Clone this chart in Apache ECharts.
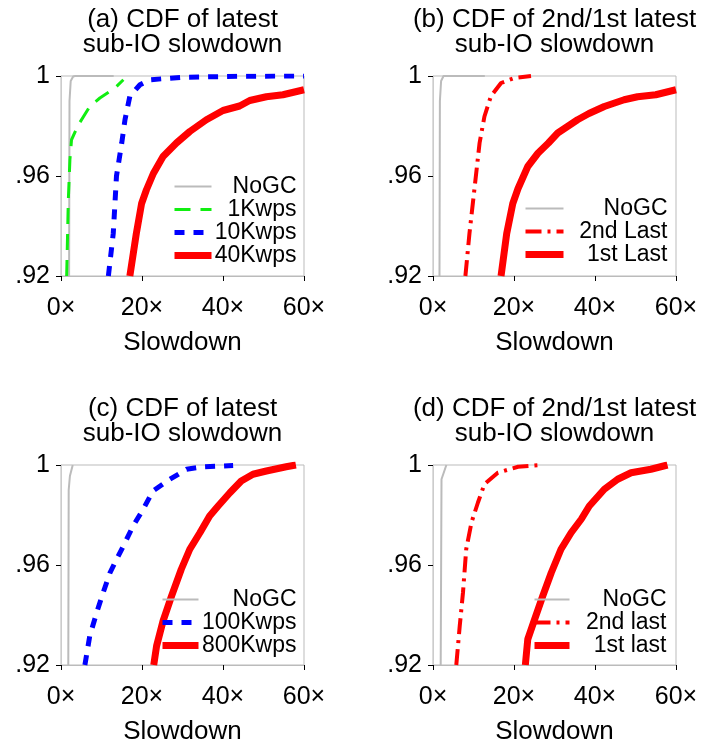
<!DOCTYPE html>
<html>
<head>
<meta charset="utf-8">
<script src="https://cdn.jsdelivr.net/npm/echarts@6/dist/echarts.min.js"></script>
<style>
  html, body { margin: 0; padding: 0; background: #fff; }
  #chart { width: 702px; height: 746px; }
</style>
</head>
<body>
<div id="chart"></div>
<script>
// values: [slowdown, cdf]
var xTicks = [0, 20, 40, 60];
var yTicks = [0.92, 0.96, 1];

var aNoGC = [[2.0, 0.92], [2.1, 0.99], [2.4, 0.998], [3.0, 0.9998], [3.5, 1], [13, 1]];
var a1K = [[1.4, 0.92], [1.8, 0.95], [2.2, 0.9665], [2.6, 0.9745], [4.3, 0.9805], [7.1, 0.9878], [9.6, 0.9912], [13.3, 0.9952], [15.4, 0.9985]];
var a10K = [[11.7, 0.92], [12.9, 0.937], [13.7, 0.96], [15.0, 0.9732], [15.8, 0.9825], [17.0, 0.9919], [19.5, 0.9965], [21.9, 0.9985], [30, 0.9995], [45, 0.9999], [60, 1]];
var a40K = [[17.0, 0.92], [18.6, 0.937], [19.9, 0.949], [21.1, 0.9545], [22.8, 0.961], [25.2, 0.9678], [28.5, 0.9732], [31.8, 0.9778], [35.9, 0.9825], [40.0, 0.9862], [44.1, 0.988], [46.6, 0.9902], [50.7, 0.9917], [54.8, 0.9925], [60, 0.9945]];

var bNoGC = [[1.6, 0.92], [1.7, 0.99], [2.0, 0.998], [2.6, 1], [12.8, 1]];
var b2nd = [[8.0, 0.92], [9.0, 0.937], [10.3, 0.9558], [11.5, 0.9732], [12.7, 0.9838], [14.3, 0.9919], [16.8, 0.9972], [20.1, 0.9992], [24.2, 1]];
var b1st = [[16.8, 0.92], [18.2, 0.937], [19.7, 0.949], [21.0, 0.955], [23.4, 0.9638], [25.9, 0.9691], [28.5, 0.9732], [30.8, 0.9772], [35.7, 0.9825], [38.5, 0.985], [42.3, 0.9878], [47.2, 0.9905], [50.5, 0.9917], [55, 0.9925], [60, 0.9945]];

var cNoGC = [[1.8, 0.92], [1.9, 0.99], [2.2, 0.9956], [2.9, 1]];
var c100K = [[5.9, 0.92], [7.1, 0.9316], [8.8, 0.9409], [10.4, 0.9489], [12.1, 0.9569], [13.3, 0.9609], [15.4, 0.9676], [17.8, 0.9756], [20.3, 0.9823], [22.7, 0.9896], [26.9, 0.9943], [31.0, 0.9983], [35.1, 0.9993], [42.5, 0.9998]];
var c800K = [[22.9, 0.92], [23.6, 0.9276], [25.2, 0.9376], [27.3, 0.9476], [29.7, 0.9583], [31.8, 0.9663], [34.3, 0.9729], [36.7, 0.9796], [38.8, 0.9836], [41.7, 0.9889], [44.5, 0.9936], [47.4, 0.9963], [50.7, 0.9976], [55.6, 0.9993], [58, 1]];

var dNoGC = [[1.9, 0.92], [2.1, 0.9943], [3.3, 1]];
var d2nd = [[5.75, 0.92], [6.6, 0.9356], [7.4, 0.9489], [8.2, 0.9663], [9.5, 0.977], [11.1, 0.985], [12.7, 0.9923], [16.0, 0.9969], [21.0, 0.9993], [26.7, 1]];
var d1st = [[22.8, 0.92], [23.4, 0.9303], [25.1, 0.9383], [27.1, 0.9476], [29.2, 0.9569], [31.6, 0.9663], [34.1, 0.9729], [36.6, 0.9783], [38.6, 0.9836], [42.3, 0.9903], [45.6, 0.9943], [48.9, 0.9969], [53.8, 0.9983], [57.9, 1]];

var titles = [
  "(a) CDF of latest\nsub-IO slowdown",
  "(b) CDF of 2nd/1st latest\nsub-IO slowdown",
  "(c) CDF of latest\nsub-IO slowdown",
  "(d) CDF of 2nd/1st latest\nsub-IO slowdown"
];

var FONT = "Liberation Sans";
var grids = [
  { left: 61, top: 76 },
  { left: 433, top: 76 },
  { left: 61, top: 465 },
  { left: 433, top: 465 }
];

// line styles per legend name
var styles = {
  "NoGC": { color: "#bbbbbb", width: 2, type: "solid" },
  "1Kwps": { color: "#11ee11", width: 3, type: [16, 10] },
  "10Kwps": { color: "#0000ff", width: 5, type: [10, 9] },
  "40Kwps": { color: "#ff0000", width: 7, type: "solid" },
  "2nd Last": { color: "#ff0000", width: 4, type: [16, 6, 3, 6] },
  "1st Last": { color: "#ff0000", width: 7, type: "solid" },
  "100Kwps": { color: "#0000ff", width: 5, type: [10, 9] },
  "800Kwps": { color: "#ff0000", width: 7, type: "solid" },
  "2nd last": { color: "#ff0000", width: 4, type: [16, 6, 3, 6] },
  "1st last": { color: "#ff0000", width: 7, type: "solid" }
};

function line(name, idx, data) {
  var s = styles[name];
  return {
    name: name,
    type: "line",
    xAxisIndex: idx,
    yAxisIndex: idx,
    symbol: "none",
    lineStyle: { color: s.color, width: s.width, type: s.type },
    itemStyle: { color: s.color },
    data: data
  };
}

function legend(names, left, top, iconW, textW) {
  return {
    orient: "vertical",
    left: left,
    top: top,
    padding: 0,
    itemGap: 0,
    itemWidth: iconW,
    itemHeight: 14,
    selectedMode: false,
    itemStyle: { opacity: 0, borderWidth: 0 },
    data: names.map(function (n) {
      var s = styles[n];
      return { name: n, lineStyle: { color: s.color, width: s.width, type: s.type } };
    }),
    formatter: function (n) { return "{r|" + n + "}"; },
    textStyle: {
      fontFamily: FONT,
      fontSize: 23,
      color: "#000",
      rich: { r: { width: textW, align: "right", fontSize: 23, lineHeight: 23.5, fontFamily: FONT, color: "#000" } }
    }
  };
}

var chart = echarts.init(document.getElementById("chart"));
chart.setOption({
  animation: false,
  backgroundColor: "#fff",
  textStyle: { fontFamily: FONT },
  title: titles.map(function (t, i) {
    return {
      text: t,
      left: grids[i].left + 121.5,
      textAlign: "center",
      top: grids[i].top - 69,
      padding: 0,
      textStyle: { fontFamily: FONT, fontSize: 26, lineHeight: 25, fontWeight: "normal", color: "#000" }
    };
  }),
  grid: grids.map(function (g) {
    return { left: g.left, top: g.top, width: 243, height: 200, show: true, borderColor: "#bbb", borderWidth: 1 };
  }),
  legend: [
    legend(["NoGC", "1Kwps", "10Kwps", "40Kwps"], 171, 175, 37, 80),
    legend(["NoGC", "2nd Last", "1st Last"], 522, 197, 38, 99),
    legend(["NoGC", "100Kwps", "800Kwps"], 159, 588, 36, 93),
    legend(["NoGC", "2nd last", "1st last"], 531, 588, 35, 92)
  ],
  xAxis: grids.map(function (g, i) {
    return {
      type: "value",
      gridIndex: i,
      min: xTicks[0],
      max: xTicks[xTicks.length - 1],
      interval: 20,
      name: "Slowdown",
      nameLocation: "middle",
      nameGap: 54,
      nameTextStyle: { fontFamily: FONT, fontSize: 26, color: "#000" },
      axisLine: { show: true, lineStyle: { color: "#bbb", width: 1 } },
      axisTick: { show: true, inside: false, length: 5, lineStyle: { color: "#000", width: 1 } },
      axisLabel: {
        margin: 20,
        fontFamily: FONT,
        fontSize: 25,
        color: "#000",
        formatter: function (v) { return v + "\u00d7"; }
      },
      splitLine: { show: false }
    };
  }),
  yAxis: grids.map(function (g, i) {
    return {
      type: "value",
      gridIndex: i,
      min: yTicks[0],
      max: yTicks[yTicks.length - 1],
      interval: 0.04,
      axisLine: { show: true, lineStyle: { color: "#ccc", width: 1 } },
      axisTick: { show: true, inside: false, length: 5, lineStyle: { color: "#000", width: 1 } },
      axisLabel: {
        margin: 11,
        fontFamily: FONT,
        fontSize: 25,
        color: "#000",
        formatter: function (v) {
          if (Math.abs(v - 1) < 1e-9) return "1";
          return v.toFixed(2).replace(/^0/, "");
        }
      },
      splitLine: { show: false }
    };
  }),
  series: [
    line("NoGC", 0, aNoGC),
    line("1Kwps", 0, a1K),
    line("10Kwps", 0, a10K),
    line("40Kwps", 0, a40K),

    line("NoGC", 1, bNoGC),
    line("2nd Last", 1, b2nd),
    line("1st Last", 1, b1st),

    line("NoGC", 2, cNoGC),
    line("100Kwps", 2, c100K),
    line("800Kwps", 2, c800K),

    line("NoGC", 3, dNoGC),
    line("2nd last", 3, d2nd),
    line("1st last", 3, d1st)
  ]
});
</script>
</body>
</html>
